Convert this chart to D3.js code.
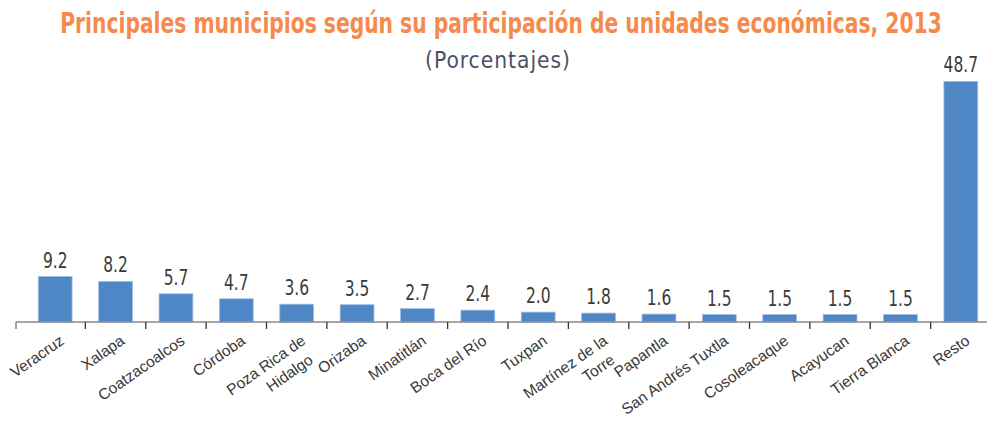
<!DOCTYPE html>
<html>
<head>
<meta charset="utf-8">
<script src="https://cdn.jsdelivr.net/npm/d3@7/dist/d3.min.js"></script>
<style>
  html, body { margin: 0; padding: 0; background: #ffffff; }
  svg { display: block; }
</style>
</head>
<body>
<svg id="chart" width="987" height="422"></svg>
<script>
const categories = [
  ["Veracruz"], ["Xalapa"], ["Coatzacoalcos"], ["Córdoba"],
  ["Poza Rica de", "Hidalgo"], ["Orizaba"], ["Minatitlán"], ["Boca del Río"],
  ["Tuxpan"], ["Martínez de la", "Torre"], ["Papantla"], ["San Andrés Tuxtla"],
  ["Cosoleacaque"], ["Acayucan"], ["Tierra Blanca"], ["Resto"]
];
const values = [9.2, 8.2, 5.7, 4.7, 3.6, 3.5, 2.7, 2.4, 2.0, 1.8, 1.6, 1.5, 1.5, 1.5, 1.5, 48.7];
const valueLabels = ["9.2", "8.2", "5.7", "4.7", "3.6", "3.5", "2.7", "2.4", "2.0", "1.8", "1.6", "1.5", "1.5", "1.5", "1.5", "48.7"];
const title = "Principales municipios según su participación de unidades económicas, 2013";
const subtitle = "(Porcentajes)";

const svg = d3.select("#chart");
const W = 987, H = 422;
const condensed = "'DejaVu Sans Condensed', 'Liberation Sans Narrow', sans-serif";

const idx = d3.range(values.length);
const x = d3.scaleBand().domain(idx).range([25, 991]).paddingInner(0.44).paddingOuter(0.22);
const y = d3.scaleLinear().domain([0, 50]).range([322, 75]);

// Title (fitted to the reference width by horizontal scaling)
const tG = svg.append("g");
const tT = tG.append("text")
  .attr("x", 0).attr("y", 0)
  .attr("text-anchor", "middle")
  .attr("font-family", condensed)
  .attr("font-weight", "bold")
  .attr("font-size", 28)
  .attr("fill", "#f68a4c")
  .text(title);
const tLen = tT.node().getComputedTextLength();
tG.attr("transform", `translate(501,33) scale(${882 / tLen},1)`);

const sG = svg.append("g");
const sT = sG.append("text")
  .attr("x", 0).attr("y", 0)
  .attr("text-anchor", "middle")
  .attr("font-family", condensed)
  .attr("font-size", 23)
  .attr("fill", "#4a5266")
  .attr("letter-spacing", 1)
  .text(subtitle);
const sLen = sT.node().getComputedTextLength();
sG.attr("transform", `translate(498,68) scale(${146 / sLen},1)`);

// Bars
svg.append("g").selectAll("rect")
  .data(idx)
  .join("rect")
  .attr("x", i => x(i))
  .attr("width", x.bandwidth())
  .attr("y", i => y(values[i]))
  .attr("height", i => y(0) - y(values[i]))
  .attr("fill", "#4f86c6")
  .attr("stroke", "#9dbce2")
  .attr("stroke-width", 0.8);

// Value labels
svg.append("g").selectAll("text")
  .data(idx)
  .join("text")
  .attr("transform", i => `translate(${x(i) + x.bandwidth() / 2},${y(values[i]) - 9}) scale(0.82,1)`)
  .attr("text-anchor", "middle")
  .attr("font-family", condensed)
  .attr("font-size", 21)
  .attr("fill", "#3a3a3a")
  .text(i => valueLabels[i]);

// Axis line and ticks
const axisG = svg.append("g");
const gap = x.step() - x.bandwidth();
axisG.append("line")
  .attr("x1", x.range()[0] - 9).attr("x2", W)
  .attr("y1", y(0)).attr("y2", y(0))
  .attr("stroke", "#8a8a8a").attr("stroke-width", 1.6);
axisG.append("line")
  .attr("x1", x.range()[0] - 9).attr("x2", x.range()[0] - 9)
  .attr("y1", y(0)).attr("y2", y(0) + 7)
  .attr("stroke", "#8a8a8a").attr("stroke-width", 1.6);
axisG.selectAll("line.tick")
  .data(idx.slice(1))
  .join("line")
  .attr("class", "tick")
  .attr("x1", i => x(i) - gap / 2).attr("x2", i => x(i) - gap / 2)
  .attr("y1", y(0)).attr("y2", y(0) + 7)
  .attr("stroke", "#333").attr("stroke-width", 1.3);

// Category labels
const lab = svg.append("g").selectAll("g")
  .data(idx)
  .join("g")
  .attr("transform", i => `translate(${x(i) + x.bandwidth() / 2 + 10},${y(0) + 21}) rotate(-35)`);

lab.each(function(i) {
  const g = d3.select(this);
  categories[i].forEach((line, k) => {
    g.append("text")
      .attr("x", k === 0 ? 0 : -5)
      .attr("y", k * 20)
      .attr("text-anchor", "end")
      .attr("font-family", "'Liberation Sans', Arial, sans-serif")
      .attr("font-size", 15.5)
      .attr("fill", "#383838")
      .text(line);
  });
});
</script>
</body>
</html>
